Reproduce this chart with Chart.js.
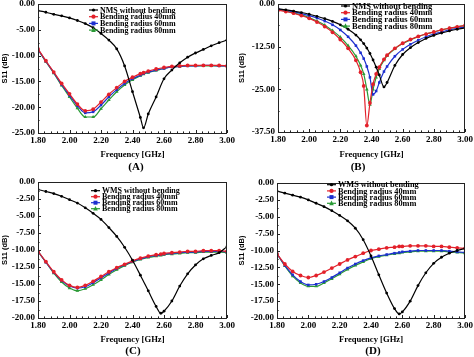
<!DOCTYPE html>
<html><head><meta charset="utf-8">
<script src="https://cdn.jsdelivr.net/npm/chart.js@4/dist/chart.umd.min.js"></script>
<style>
body{margin:0;background:#fff;width:474px;height:357px;position:relative;overflow:hidden}
.p{position:absolute}
.tag{position:absolute;font:bold 11px "Liberation Serif",serif;color:#000;transform:translate(-50%,-50%);white-space:nowrap}
</style></head><body>
<div class="p" style="left:0;top:0"><canvas id="cA" width="237" height="178"></canvas></div>
<div class="p" style="left:237px;top:0"><canvas id="cB" width="237" height="178"></canvas></div>
<div class="p" style="left:0;top:178px"><canvas id="cC" width="237" height="179"></canvas></div>
<div class="p" style="left:237px;top:178px"><canvas id="cD" width="237" height="179"></canvas></div>
<div class="tag" style="left:136px;top:166px">(A)</div>
<div class="tag" style="left:358px;top:166px">(B)</div>
<div class="tag" style="left:133px;top:350px">(C)</div>
<div class="tag" style="left:373px;top:350px">(D)</div>
<script>
// ---------- data ----------
const xTicks = [1.8, 2.0, 2.2, 2.4, 2.6, 2.8, 3.0];
const yTicksA = [0, -5, -10, -15, -20, -25];
const yTicksB = [0, -12.5, -25, -37.5];
const yTicksCD = [0, -2.5, -5, -7.5, -10, -12.5, -15, -17.5, -20];
const legendAB = ["NMS without bending", "Bending radius 40mm", "Bending radius 60mm", "Bending radius 80mm"];
const legendCD = ["WMS without bending", "Bending radius 40mm", "Bending radius 60mm", "Bending radius 80mm"];

const freqA = [1.80,1.85,1.90,1.95,2.00,2.05,2.10,2.15,2.20,2.25,2.30,2.35,2.40,2.45,2.47,2.50,2.55,2.60,2.65,2.70,2.75,2.80,2.85,2.90,2.95,3.00];
const nmsA   = [-1.3,-1.6,-2.0,-2.3,-2.7,-3.2,-3.8,-4.6,-5.7,-7.0,-8.7,-12.0,-17.0,-22.0,-24.0,-21.3,-18.0,-14.5,-12.8,-11.4,-10.3,-9.5,-8.8,-8.1,-7.5,-7.0];
const r40A   = [-8.7,-11.0,-13.2,-15.4,-17.4,-19.4,-20.7,-20.4,-19.0,-17.5,-16.2,-15.0,-14.2,-13.5,-13.3,-13.0,-12.6,-12.3,-12.1,-12.0,-11.9,-11.9,-11.9,-11.9,-11.9,-12.0];
const r60A   = [-8.8,-11.1,-13.3,-15.6,-17.7,-19.7,-21.1,-20.9,-19.6,-18.0,-16.6,-15.4,-14.5,-13.8,-13.5,-13.2,-12.8,-12.5,-12.2,-12.1,-12.0,-12.0,-11.9,-11.9,-12.0,-12.0];
const r80A   = [-8.8,-11.2,-13.4,-15.8,-18.0,-20.2,-21.9,-21.9,-20.3,-18.6,-17.0,-15.7,-14.7,-13.9,-13.6,-13.3,-12.9,-12.5,-12.2,-12.1,-12.0,-12.0,-12.0,-12.0,-12.0,-12.0];

const freqB = [1.80,1.85,1.90,1.95,2.00,2.05,2.10,2.15,2.20,2.25,2.30,2.33,2.35,2.37,2.39,2.41,2.43,2.45,2.48,2.50,2.55,2.60,2.65,2.70,2.75,2.80,2.85,2.90,2.95,3.00];
const nmsB   = [-1.4,-1.7,-2.1,-2.5,-3.0,-3.6,-4.3,-5.1,-6.1,-7.4,-9.1,-10.5,-11.6,-12.9,-14.5,-16.4,-18.5,-20.8,-24.3,-23.0,-18.0,-14.8,-12.8,-11.3,-10.1,-9.2,-8.5,-7.9,-7.4,-7.0];
const r40B   = [-1.8,-2.2,-2.7,-3.4,-4.2,-5.3,-6.6,-8.3,-10.4,-13.0,-16.5,-20.0,-24.0,-35.6,-29.0,-23.5,-20.5,-18.5,-16.2,-15.0,-13.0,-11.5,-10.4,-9.5,-8.8,-8.2,-7.6,-7.1,-6.7,-6.3];
const r60B   = [-1.5,-1.9,-2.3,-2.8,-3.4,-4.1,-5.0,-6.1,-7.6,-9.6,-12.2,-14.3,-16.0,-18.3,-21.5,-26.5,-25.5,-23.0,-19.8,-18.3,-15.3,-13.3,-11.8,-10.6,-9.6,-8.8,-8.2,-7.6,-7.1,-6.7];
const r80B   = [-1.7,-2.1,-2.6,-3.2,-4.0,-5.0,-6.2,-7.8,-9.7,-12.2,-15.3,-18.0,-20.5,-25.0,-29.5,-25.0,-21.5,-19.0,-16.5,-15.2,-13.1,-11.6,-10.5,-9.6,-8.8,-8.2,-7.6,-7.1,-6.7,-6.3];

const freqC = [1.80,1.85,1.90,1.95,2.00,2.05,2.10,2.15,2.20,2.25,2.30,2.35,2.40,2.45,2.50,2.55,2.58,2.60,2.65,2.70,2.75,2.80,2.85,2.90,2.95,3.00];
const wmsC   = [-1.1,-1.4,-1.7,-2.1,-2.6,-3.1,-3.8,-4.6,-5.5,-6.7,-8.0,-9.6,-11.5,-13.7,-16.0,-18.3,-19.3,-19.0,-17.5,-15.3,-13.5,-12.2,-11.3,-10.8,-10.4,-9.5];
const r40C   = [-10.2,-11.7,-13.2,-14.4,-15.2,-15.5,-15.2,-14.6,-13.9,-13.2,-12.6,-12.1,-11.6,-11.2,-10.9,-10.7,-10.6,-10.5,-10.4,-10.3,-10.2,-10.2,-10.1,-10.1,-10.1,-10.2];
const r60C   = [-10.2,-11.8,-13.3,-14.5,-15.3,-15.6,-15.4,-14.8,-14.1,-13.4,-12.7,-12.2,-11.7,-11.3,-11.0,-10.8,-10.7,-10.6,-10.5,-10.4,-10.3,-10.3,-10.2,-10.2,-10.2,-10.3];
const r80C   = [-10.2,-11.8,-13.4,-14.7,-15.6,-16.0,-15.7,-15.1,-14.4,-13.6,-12.9,-12.3,-11.8,-11.4,-11.1,-10.9,-10.8,-10.7,-10.6,-10.5,-10.4,-10.4,-10.3,-10.3,-10.3,-10.4];

const freqD = [1.80,1.85,1.90,1.95,2.00,2.05,2.10,2.15,2.20,2.25,2.30,2.35,2.40,2.45,2.50,2.55,2.58,2.60,2.65,2.70,2.75,2.80,2.85,2.90,2.95,3.00];
const wmsD   = [-1.2,-1.5,-1.8,-2.1,-2.5,-3.0,-3.5,-4.1,-4.8,-5.6,-6.7,-8.4,-10.8,-13.6,-16.3,-18.6,-19.4,-19.1,-17.5,-15.2,-13.3,-11.9,-11.0,-10.4,-10.0,-9.7];
const r40D   = [-10.5,-12.0,-13.1,-13.7,-14.0,-13.7,-13.2,-12.6,-12.0,-11.4,-10.9,-10.4,-10.0,-9.8,-9.6,-9.5,-9.4,-9.4,-9.3,-9.3,-9.3,-9.4,-9.4,-9.5,-9.6,-9.7];
const r60D   = [-10.5,-12.2,-13.6,-14.6,-15.1,-15.0,-14.6,-14.0,-13.3,-12.6,-12.0,-11.5,-11.1,-10.8,-10.6,-10.4,-10.3,-10.2,-10.1,-10.0,-10.0,-10.0,-10.0,-10.1,-10.2,-10.3];
const r80D   = [-10.5,-12.3,-13.8,-14.8,-15.3,-15.3,-14.8,-14.2,-13.5,-12.8,-12.2,-11.7,-11.2,-10.9,-10.7,-10.5,-10.4,-10.3,-10.2,-10.1,-10.1,-10.1,-10.1,-10.2,-10.3,-10.4];

// ---------- styles ----------
const STY = [
  {color:'#000000', style:'circle', r:1.4},
  {color:'#e3202a', style:'circle', r:1.9},
  {color:'#1c2fcf', style:'rect', r:1.8},
  {color:'#2a9a35', style:'triangle', r:2.1}
];

function drawMarker(ctx, style, r, x, y, color){
  ctx.save(); ctx.fillStyle = color; ctx.strokeStyle = color; ctx.lineWidth = 1;
  ctx.beginPath();
  if(style==='circle'){ ctx.arc(x,y,r,0,Math.PI*2); }
  else if(style==='rect'){ ctx.rect(x-r,y-r,2*r,2*r); }
  else { ctx.moveTo(x,y-r*1.2); ctx.lineTo(x+r,y+r*0.8); ctx.lineTo(x-r,y+r*0.8); ctx.closePath(); }
  ctx.fill(); ctx.restore();
}

const framePlugin = {
  id:'frame',
  afterDatasetsDraw(chart, args, o){
    const {ctx, chartArea:a, scales:{x, y}} = chart;
    ctx.save();
    ctx.strokeStyle = '#222'; ctx.lineWidth = 1;
    ctx.strokeRect(Math.round(a.left)+0.5, Math.round(a.top)+0.5, Math.round(a.right-a.left)-1, Math.round(a.bottom-a.top));
    ctx.beginPath();
    for(let v=1.8; v<=3.0001; v+=0.04){
      const px = Math.round(x.getPixelForValue(v))+0.5;
      const major = Math.abs((v-1.8)/0.2 - Math.round((v-1.8)/0.2))<1e-6;
      const L = major?3:1.6;
      ctx.moveTo(px, a.bottom); ctx.lineTo(px, a.bottom-L);
    }
    const yt = o.yTicks; const st = yt[0]-yt[1];
    for(let i=0;i<yt.length;i++){
      const py = Math.round(y.getPixelForValue(yt[i]))+0.5;
      ctx.moveTo(a.left, py); ctx.lineTo(a.left+3, py);
      if(i<yt.length-1){
        const pm = Math.round(y.getPixelForValue(yt[i]-st/2))+0.5;
        ctx.moveTo(a.left, pm); ctx.lineTo(a.left+1.6, pm);
      }
    }
    ctx.stroke();
    // legend
    const L = o.legend;
    ctx.font = 'bold '+L.size+'px "Liberation Serif", serif';
    ctx.textBaseline = 'middle'; ctx.textAlign = 'left';
    chart.data.datasets.forEach((ds,i)=>{
      const yy = L.y + i*L.dy;
      ctx.strokeStyle = ds.borderColor; ctx.lineWidth = 1.2;
      ctx.beginPath(); ctx.moveTo(L.x, yy); ctx.lineTo(L.x+9, yy); ctx.stroke();
      drawMarker(ctx, STY[i].style, STY[i].r+0.2, L.x+4.5, yy, ds.borderColor);
      ctx.fillStyle = '#000';
      ctx.fillText(ds.label, L.x+11, yy+0.5);
    });
    ctx.restore();
  }
};

function makeChart(id, P){
  const W = P.W, H = P.H;
  const datasets = P.series.map((vals,i)=>({
    label: P.labels[i],
    data: P.freq.map((f,k)=>({x:f, y:vals[k]})),
    borderColor: STY[i].color, backgroundColor: STY[i].color,
    borderWidth: 1.2, pointStyle: STY[i].style, pointRadius: STY[i].r, pointBorderWidth: 0,
    cubicInterpolationMode: 'monotone', fill:false
  }));
  return new Chart(document.getElementById(id), {
    type:'line',
    data:{datasets},
    plugins:[framePlugin],
    options:{
      responsive:false, animation:false, devicePixelRatio:1,
      layout:{padding:{left:0, top:P.top, right:W-P.right, bottom:0}},
      plugins:{legend:{display:false}, tooltip:{enabled:false}, title:{display:false},
        frame:{yTicks:P.yTicks, legend:P.legend}},
      scales:{
        x:{type:'linear', min:1.8, max:3.0,
          afterBuildTicks:s=>{ s.ticks = xTicks.map(v=>({value:v})); },
          afterFit:s=>{ s.height = H-P.bottom; s.paddingLeft=0; s.paddingRight=0; s.paddingTop=0; s.paddingBottom=0; },
          ticks:{autoSkip:false, maxRotation:0, padding:P.xPad, color:'#000',
            font:{family:'"Liberation Serif", serif', weight:'bold', size:9},
            callback:v=>Number(v).toFixed(2)},
          grid:{display:false, drawTicks:false}, border:{display:false},
          title:{display:true, text:'Frequency [GHz]', color:'#000',
            font:{family:'"Liberation Serif", serif', weight:'bold', size:8.6},
            padding:{top:0, bottom:P.xTitleBottom}}
        },
        y:{type:'linear', min:P.yTicks[P.yTicks.length-1], max:0,
          afterBuildTicks:s=>{ s.ticks = P.yTicks.map(v=>({value:v})); },
          afterFit:s=>{ s.width = P.left; s.paddingLeft=0; s.paddingRight=0; s.paddingTop=0; s.paddingBottom=0; },
          ticks:{autoSkip:false, padding:3, color:'#000',
            font:{family:'"Liberation Serif", serif', weight:'bold', size:9},
            callback:v=>Number(v).toFixed(2)},
          grid:{display:false, drawTicks:false}, border:{display:false},
          title:{display:true, text:'S11 (dB)', color:'#000',
            font:{family:'"Liberation Sans", sans-serif', weight:'bold', size:7.5},
            padding:{top:P.yTitlePad, bottom:0}}
        }
      }
    }
  });
}

makeChart('cA', {W:237,H:178,left:38,right:227,top:4,bottom:133,xPad:2,xTitleBottom:18,yTitlePad:0.5,
  freq:freqA, series:[nmsA,r40A,r60A,r80A], labels:legendAB, yTicks:yTicksA,
  legend:{x:89,y:10,dy:6.7,size:8}});
makeChart('cB', {W:237,H:178,left:41,right:228,top:2,bottom:132,xPad:2,xTitleBottom:18,yTitlePad:0.5,
  freq:freqB, series:[nmsB,r40B,r60B,r80B], labels:legendAB, yTicks:yTicksB,
  legend:{x:104,y:6,dy:6.7,size:8.5}});
makeChart('cC', {W:237,H:179,left:38,right:227,top:4,bottom:140,xPad:2,xTitleBottom:12,yTitlePad:0.5,
  freq:freqC, series:[wmsC,r40C,r60C,r80C], labels:legendCD, yTicks:yTicksCD,
  legend:{x:91,y:12.7,dy:6,size:8}});
makeChart('cD', {W:237,H:179,left:40,right:228,top:5,bottom:140,xPad:2,xTitleBottom:12,yTitlePad:0.5,
  freq:freqD, series:[wmsD,r40D,r60D,r80D], labels:legendCD, yTicks:yTicksCD,
  legend:{x:90,y:6.7,dy:6.2,size:8.3}});
</script>
</body></html>
